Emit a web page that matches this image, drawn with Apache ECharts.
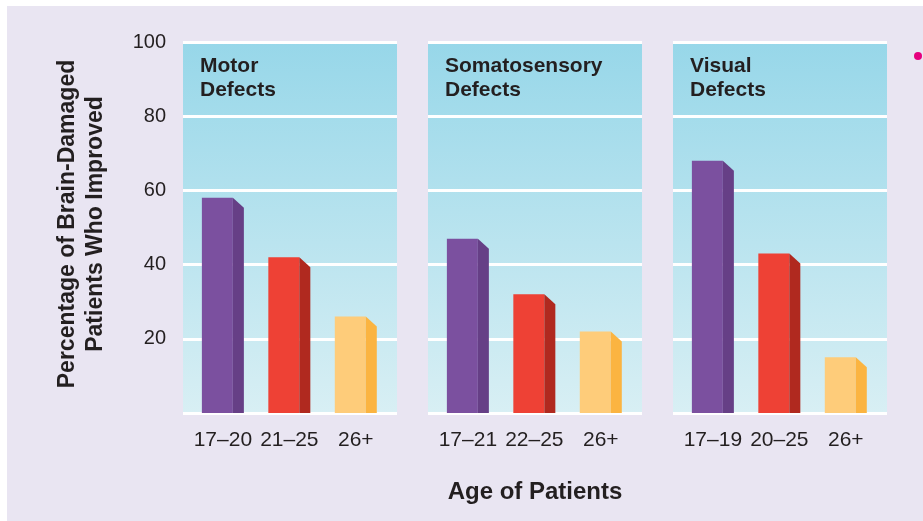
<!DOCTYPE html>
<html>
<head>
<meta charset="utf-8">
<script src="https://cdn.jsdelivr.net/npm/echarts@6/dist/echarts.min.js"></script>
<style>
    html, body {
        margin: 0;
        padding: 0;
        background: #ffffff;
    }
    #chart {
        width: 923px;
        height: 521px;
    }
</style>
</head>
<body>
<div id="chart"></div>
<script>
    // data
    var panelTitles = ['Motor\nDefects', 'Somatosensory\nDefects', 'Visual\nDefects'];
    var motorAges = ['17–20', '21–25', '26+'];
    var motorValues = [58, 42, 26];
    var somatoAges = ['17–21', '22–25', '26+'];
    var somatoValues = [47, 32, 22];
    var visualAges = ['17–19', '20–25', '26+'];
    var visualValues = [68, 43, 15];

    var panelAges = [motorAges, somatoAges, visualAges];
    var panelValues = [motorValues, somatoValues, visualValues];

    var barColors = [
        {front: '#7b509f', side: '#663f86'},
        {front: '#ee4135', side: '#b0291f'},
        {front: '#fecc7a', side: '#fbb441'}
    ];
    var textColor = '#231f20';
    var panelLeft = [183, 428, 673];

    var chart = echarts.init(document.getElementById('chart'));

    // flat front face + darker slanted side face
    function renderBar(params, api) {
        var x = api.value(0);
        var v = api.value(1);
        var top = api.coord([x, v]);
        var base = api.coord([x, 0]);
        var c = barColors[params.dataIndex];
        var cx = top[0];
        return {
            type: 'group',
            children: [
                {
                    type: 'rect',
                    shape: {x: cx - 21, y: top[1], width: 31, height: base[1] - top[1]},
                    style: {fill: c.front}
                },
                {
                    type: 'polygon',
                    shape: {points: [[cx + 10, top[1]], [cx + 21, top[1] + 10], [cx + 21, base[1]], [cx + 10, base[1]]]},
                    style: {fill: c.side}
                }
            ]
        };
    }

    var grids = [], xAxes = [], yAxes = [], series = [], titles = [];
    for (var i = 0; i < 3; i++) {
        grids.push({
            left: panelLeft[i],
            top: 42,
            width: 214,
            height: 371,
            show: true,
            borderWidth: 0,
            backgroundColor: new echarts.graphic.LinearGradient(0, 0, 0, 1, [
                {offset: 0, color: '#97d7e9'},
                {offset: 1, color: '#d8eff4'}
            ]),
            outerBoundsMode: 'none'
        });
        (function (ages) {
            xAxes.push({
                type: 'value',
                gridIndex: i,
                min: -0.6,
                max: 2.62,
                axisLine: {show: false},
                axisTick: {show: false},
                splitLine: {show: false},
                axisLabel: {
                    customValues: [0, 1, 2],
                    margin: 17,
                    fontSize: 21,
                    color: textColor,
                    fontFamily: 'Liberation Sans',
                    formatter: function (val) {
                        return ages[Math.round(val)];
                    }
                }
            });
        })(panelAges[i]);
        yAxes.push({
            type: 'value',
            gridIndex: i,
            min: 0,
            max: 100,
            interval: 20,
            axisLine: {show: false},
            axisTick: {show: false},
            splitLine: {lineStyle: {color: '#ffffff', width: 3}},
            axisLabel: {
                show: i === 0,
                margin: 17,
                fontSize: 20,
                color: textColor,
                fontFamily: 'Liberation Sans',
                formatter: function (val) {
                    return val === 0 ? '' : String(val);
                }
            }
        });
        var data = [];
        for (var k = 0; k < panelValues[i].length; k++) {
            data.push([k, panelValues[i][k]]);
        }
        series.push({
            type: 'custom',
            xAxisIndex: i,
            yAxisIndex: i,
            renderItem: renderBar,
            data: data,
            silent: true
        });
        titles.push({
            text: panelTitles[i],
            left: panelLeft[i] + 17,
            top: 54,
            padding: 0,
            textStyle: {
                fontSize: 21,
                fontWeight: 'bold',
                lineHeight: 24,
                color: textColor,
                fontFamily: 'Liberation Sans'
            }
        });
    }

    var option = {
        backgroundColor: '#ffffff',
        animation: false,
        title: titles,
        grid: grids,
        xAxis: xAxes,
        yAxis: yAxes,
        series: series,
        graphic: [
            {
                type: 'rect',
                z: -10,
                shape: {x: 7, y: 6, width: 916, height: 515},
                style: {fill: '#e9e5f2'}
            },
            {
                type: 'circle',
                shape: {cx: 918, cy: 56, r: 4},
                style: {fill: '#e6007e'}
            },
            {
                type: 'text',
                x: 82,
                y: 224,
                rotation: Math.PI / 2,
                style: {
                    text: 'Percentage of Brain-Damaged\nPatients Who Improved',
                    fontSize: 23,
                    fontWeight: 'bold',
                    lineHeight: 28,
                    fill: textColor,
                    fontFamily: 'Liberation Sans',
                    align: 'center',
                    verticalAlign: 'middle'
                }
            },
            {
                type: 'text',
                x: 535,
                y: 492,
                style: {
                    text: 'Age of Patients',
                    fontSize: 24,
                    fontWeight: 'bold',
                    fill: textColor,
                    fontFamily: 'Liberation Sans',
                    align: 'center',
                    verticalAlign: 'middle'
                }
            }
        ]
    };

    chart.setOption(option);
</script>
</body>
</html>
